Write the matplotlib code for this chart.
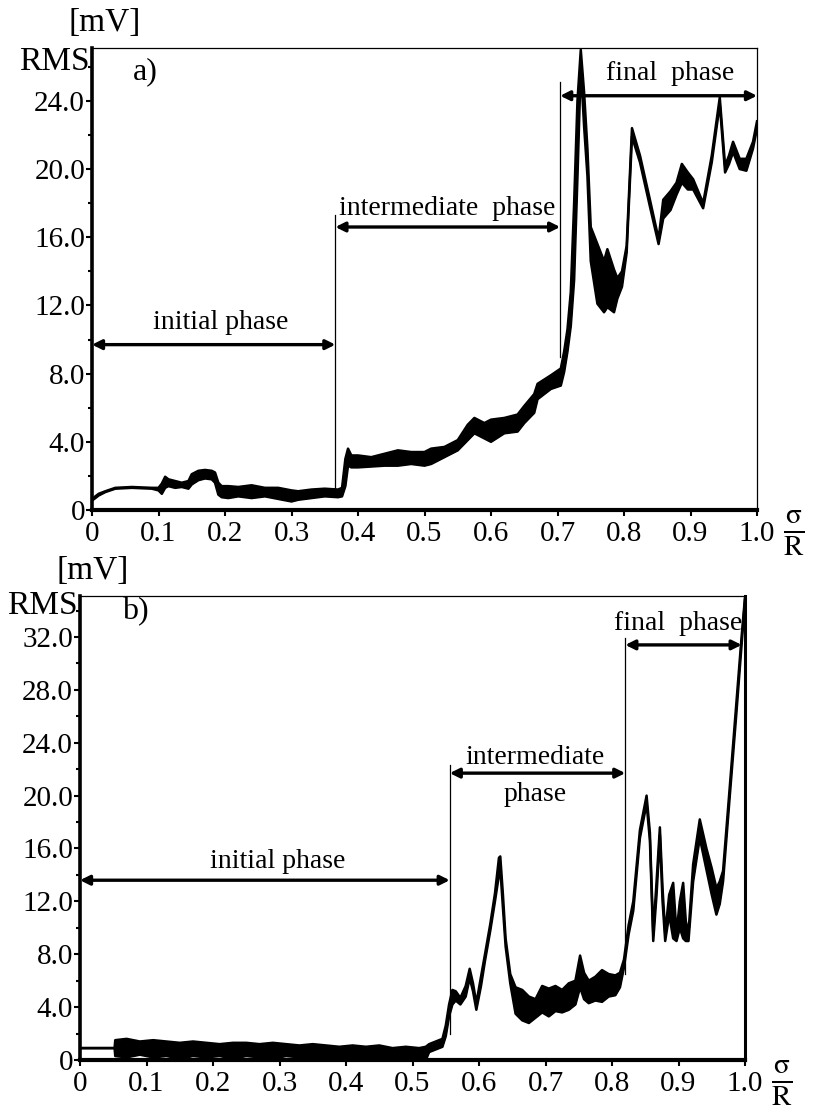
import numpy as np
import matplotlib.pyplot as plt
from matplotlib.ticker import MultipleLocator

plt.rcParams['font.family'] = ['Liberation Serif', 'DejaVu Serif']
plt.rcParams['mathtext.fontset'] = 'stix'

# a) relative radius, lower and upper edge of the RMS trace [mV]
xA = [0.000, 0.010, 0.020, 0.035, 0.060, 0.090, 0.100, 0.105, 0.110, 0.115,
      0.125, 0.135, 0.145, 0.150, 0.160, 0.170, 0.180, 0.185, 0.190, 0.195,
      0.205, 0.220, 0.240, 0.260, 0.280, 0.300, 0.310, 0.330, 0.350, 0.370,
      0.376, 0.381, 0.385, 0.390, 0.400, 0.420, 0.440, 0.460, 0.480, 0.500,
      0.510, 0.530, 0.550, 0.565, 0.575, 0.590, 0.600, 0.620, 0.640, 0.650,
      0.665, 0.670, 0.690, 0.705, 0.710, 0.715, 0.720, 0.725, 0.730, 0.735,
      0.740, 0.745, 0.750, 0.760, 0.770, 0.775, 0.785, 0.790, 0.797, 0.804,
      0.812, 0.824, 0.839, 0.852, 0.859, 0.870, 0.879, 0.887, 0.896, 0.904,
      0.919, 0.932, 0.944, 0.952, 0.958, 0.964, 0.974, 0.984, 0.994, 1.000]
loA = [0.55, 0.85, 1.05, 1.25, 1.30, 1.25, 1.15, 0.95, 1.30, 1.40,
       1.30, 1.35, 1.25, 1.50, 1.75, 1.85, 1.80, 1.60, 0.90, 0.75,
       0.70, 0.80, 0.70, 0.80, 0.65, 0.50, 0.60, 0.70, 0.80, 0.75,
       0.80, 1.40, 2.60, 2.50, 2.50, 2.55, 2.60, 2.60, 2.70, 2.60,
       2.70, 3.10, 3.50, 4.10, 4.50, 4.20, 4.00, 4.50, 4.60, 5.10,
       5.70, 6.50, 7.10, 7.30, 8.10, 9.30, 10.8, 13.5, 19.5, 26.0,
       22.5, 19.6, 14.6, 12.1, 11.6, 11.9, 11.6, 12.4, 13.1, 15.1,
       21.9, 20.4, 17.8, 15.6, 17.1, 17.6, 18.5, 19.2, 18.8, 18.8,
       17.7, 20.4, 23.8, 19.8, 20.3, 21.0, 20.0, 19.9, 21.2, 22.4]
hiA = [0.65, 0.95, 1.10, 1.30, 1.35, 1.30, 1.30, 1.55, 1.95, 1.80,
       1.70, 1.60, 1.70, 2.10, 2.30, 2.35, 2.30, 2.20, 1.60, 1.40,
       1.40, 1.35, 1.45, 1.30, 1.30, 1.15, 1.10, 1.20, 1.25, 1.20,
       1.30, 3.00, 3.60, 3.20, 3.20, 3.10, 3.30, 3.50, 3.40, 3.40,
       3.60, 3.70, 4.10, 5.00, 5.40, 5.10, 5.30, 5.40, 5.60, 6.10,
       6.80, 7.40, 7.90, 8.30, 9.30, 10.6, 12.8, 18.0, 24.0, 27.0,
       24.5, 21.2, 16.6, 15.6, 14.6, 15.3, 14.1, 13.6, 14.0, 15.5,
       22.4, 20.8, 18.2, 15.9, 18.2, 18.7, 19.2, 20.3, 19.8, 19.4,
       18.0, 20.8, 24.2, 20.2, 20.8, 21.6, 20.6, 20.6, 21.6, 22.8]

# b) relative radius, lower and upper edge of the RMS trace [mV]
xB = [0.000, 0.052, 0.053, 0.070, 0.090, 0.110, 0.130, 0.150, 0.170, 0.190,
      0.210, 0.230, 0.250, 0.270, 0.290, 0.310, 0.330, 0.350, 0.370, 0.390,
      0.410, 0.430, 0.450, 0.470, 0.490, 0.510, 0.520, 0.525, 0.535, 0.545,
      0.550, 0.555, 0.560, 0.565, 0.572, 0.580, 0.586, 0.591, 0.596, 0.603,
      0.609, 0.617, 0.624, 0.630, 0.632, 0.636, 0.640, 0.647, 0.655, 0.665,
      0.675, 0.685, 0.695, 0.705, 0.715, 0.725, 0.735, 0.745, 0.752, 0.758,
      0.765, 0.775, 0.785, 0.795, 0.805, 0.812, 0.818, 0.825, 0.832, 0.842,
      0.852, 0.857, 0.862, 0.867, 0.872, 0.876, 0.880, 0.886, 0.892, 0.897,
      0.902, 0.907, 0.911, 0.915, 0.922, 0.932, 0.942, 0.950, 0.957, 0.962,
      0.967, 0.977, 0.987, 0.995, 1.000]
loB = [0.9, 0.9, 0.3, 0.2, 0.4, 0.2, 0.3, 0.1, 0.3, 0.2,
       0.3, 0.1, 0.3, 0.2, 0.1, 0.3, 0.2, 0.1, 0.2, 0.1,
       0.2, 0.1, 0.0, 0.1, 0.0, 0.0, 0.0, 0.6, 0.8, 1.0,
       1.8, 3.3, 4.2, 4.5, 4.2, 4.8, 6.2, 5.2, 3.8, 5.6,
       7.5, 9.8, 12.0, 14.0, 14.5, 11.5, 8.6, 5.8, 3.5, 3.0,
       2.8, 3.2, 3.6, 3.3, 3.7, 3.6, 3.8, 4.2, 5.5, 4.6,
       4.3, 4.5, 4.4, 4.8, 4.9, 5.5, 7.0, 9.5, 11.3, 16.8,
       19.4, 16.6, 9.0, 12.5, 17.0, 12.0, 9.0, 11.0, 9.2, 9.0,
       10.0, 9.2, 9.0, 9.0, 13.5, 16.8, 14.4, 12.5, 11.0, 11.8,
       13.5, 19.9, 26.2, 31.5, 34.8]
hiB = [0.9, 0.9, 1.5, 1.6, 1.4, 1.5, 1.4, 1.3, 1.4, 1.3,
       1.2, 1.3, 1.3, 1.2, 1.3, 1.2, 1.1, 1.2, 1.1, 1.0,
       1.1, 1.0, 1.1, 0.9, 1.0, 0.9, 1.0, 1.2, 1.4, 1.6,
       2.6, 4.2, 5.3, 5.2, 4.7, 5.6, 6.9, 5.8, 4.3, 6.3,
       8.0, 10.3, 12.6, 15.3, 15.4, 12.5, 9.2, 6.5, 5.5, 5.3,
       4.8, 4.6, 5.6, 5.4, 5.6, 5.3, 5.8, 6.0, 7.9, 6.6,
       6.0, 6.3, 6.8, 6.5, 6.4, 6.6, 7.6, 10.2, 12.0, 17.4,
       20.0, 17.2, 9.6, 13.5, 17.6, 13.0, 9.6, 12.5, 13.4, 9.6,
       12.0, 13.4, 10.5, 9.6, 14.8, 18.2, 16.0, 14.5, 13.0, 13.5,
       14.3, 20.6, 27.0, 32.1, 35.0]

# phase boundaries (relative radius)
boundsA = [0.366, 0.704]
boundsB = [0.556, 0.820]

xticks = np.round(np.arange(0, 1.01, 0.1), 1)
xticklabels = ['0'] + ['%.1f' % t for t in xticks[1:]]

fig = plt.figure(figsize=(8.13, 11.12), dpi=100)
axA = fig.add_axes([92 / 813, (1112 - 510) / 1112, 665 / 813, 462 / 1112])
axB = fig.add_axes([80 / 813, (1112 - 1060) / 1112, 665 / 813, 464 / 1112])


def draw_trace(ax, x, lo, hi):
    ax.fill_between(x, lo, hi, color='black', lw=0)
    ax.plot(x, lo, color='black', lw=1.8, solid_joinstyle='round')
    ax.plot(x, hi, color='black', lw=1.8, solid_joinstyle='round')


def phase_arrow(ax, x0, x1, y):
    ax.annotate('', xy=(x1, y), xytext=(x0, y),
                arrowprops=dict(arrowstyle='<|-|>', lw=2.4, color='black',
                                mutation_scale=14, shrinkA=0, shrinkB=0))


def style_axes(ax, ymax, yticks, right_lw):
    ax.set_xlim(0, 1.0)
    ax.set_ylim(0, ymax)
    ax.set_xticks(xticks)
    ax.set_xticklabels(xticklabels)
    ax.set_yticks(yticks)
    ax.set_yticklabels(['0'] + ['%.1f' % t for t in yticks[1:]])
    ax.yaxis.set_minor_locator(MultipleLocator(2))
    ax.tick_params(axis='both', which='major', direction='out', length=4,
                   width=1.5, labelsize=21)
    ax.tick_params(axis='y', which='major', pad=1)
    ax.tick_params(axis='x', which='major', pad=4)
    ax.tick_params(axis='y', which='minor', direction='out', length=3,
                   width=1.5)
    ax.spines['left'].set_linewidth(2.6)
    ax.spines['bottom'].set_linewidth(3.0)
    ax.spines['top'].set_linewidth(0.9)
    ax.spines['right'].set_linewidth(right_lw)
    ax.text(-0.035, 1.055, '[mV]', transform=ax.transAxes, fontsize=24,
            ha='left', va='center')
    ax.text(1.055, -0.05, r'$\frac{\mathrm{\sigma}}{\mathrm{R}}$',
            transform=ax.transAxes, fontsize=30, ha='center', va='center')


# ---- a)
draw_trace(axA, xA, loA, hiA)
style_axes(axA, 27.1, [0, 4, 8, 12, 16, 20, 24], 0.9)
axA.plot([boundsA[0]] * 2, [1.0, 17.3], color='black', lw=0.9)
axA.plot([boundsA[1]] * 2, [9.0, 25.1], color='black', lw=0.9)
phase_arrow(axA, 0.0, boundsA[0], 9.7)
phase_arrow(axA, boundsA[0], boundsA[1], 16.6)
phase_arrow(axA, boundsA[1], 1.0, 24.3)
axA.text(0.194, 11.0, 'initial phase', fontsize=20, ha='center', va='center')
axA.text(0.534, 17.7, 'intermediate  phase', fontsize=20, ha='center',
         va='center')
axA.text(0.869, 25.6, 'final  phase', fontsize=20, ha='center', va='center')
axA.text(0.08, 25.7, 'a)', fontsize=23, ha='center', va='center')
axA.text(-0.004, 26.3, 'RMS', fontsize=24, ha='right', va='center')

# ---- b)
draw_trace(axB, xB, loB, hiB)
style_axes(axB, 35.1, [0, 4, 8, 12, 16, 20, 24, 28, 32], 2.2)
axB.plot([boundsB[0]] * 2, [2.0, 22.3], color='black', lw=0.9)
axB.plot([boundsB[1]] * 2, [6.5, 31.9], color='black', lw=0.9)
phase_arrow(axB, 0.0, boundsB[0], 13.6)
phase_arrow(axB, boundsB[0], boundsB[1], 21.7)
phase_arrow(axB, boundsB[1], 0.995, 31.4)
axB.text(0.298, 15.0, 'initial phase', fontsize=20, ha='center', va='center')
axB.text(0.684, 22.9, 'intermediate', fontsize=20, ha='center', va='center')
axB.text(0.684, 20.1, 'phase', fontsize=20, ha='center', va='center')
axB.text(0.90, 33.0, 'final  phase', fontsize=20, ha='center', va='center')
axB.text(0.083, 33.9, 'b)', fontsize=23, ha='center', va='center')
axB.text(-0.004, 34.4, 'RMS', fontsize=24, ha='right', va='center')

fig.savefig('out.png', dpi=100)
